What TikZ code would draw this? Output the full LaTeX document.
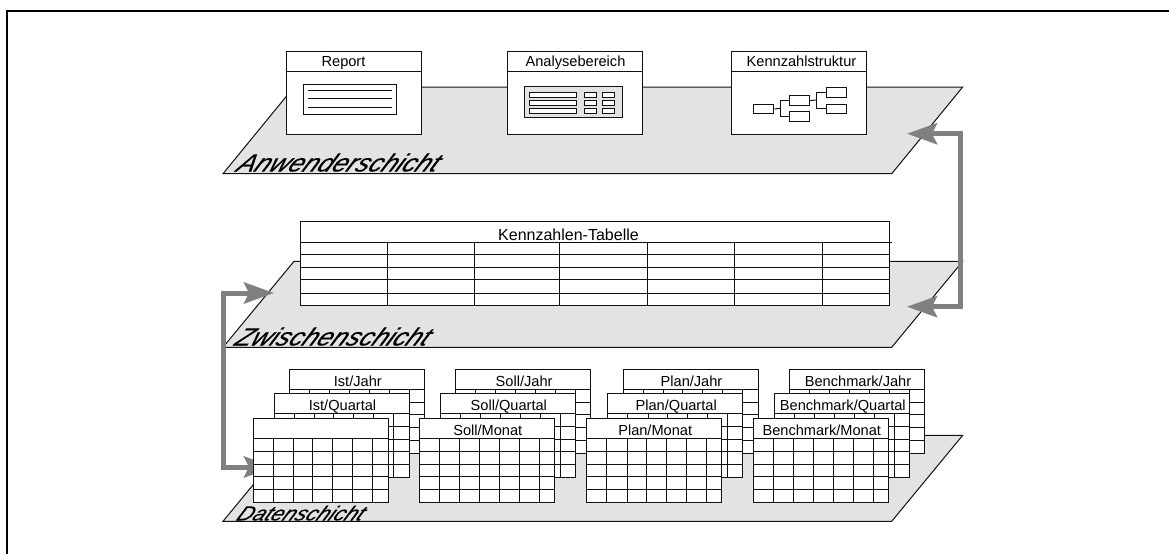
\documentclass[tikz,border=0pt]{standalone}
\usepackage{fontspec}
\setmainfont{Liberation Sans}
\newfontfamily\layerfont[FakeBold=0.4]{Liberation Sans Italic}
\usetikzlibrary{arrows.meta}
\definecolor{planegray}{HTML}{E3E3E3}
\definecolor{arrowgray}{HTML}{808080}
\definecolor{linec}{HTML}{111111}
\tikzset{
  thinline/.style={draw=linec,line width=1pt},
  plane/.style={fill=planegray,draw=none},
  planeedge/.style={draw=linec,line width=1pt},
  boxfill/.style={thinline,fill=white},
  flowarrow/.style={draw=arrowgray,line width=5pt,line join=miter,
    {Stealth[length=30pt,width=21pt,inset=5pt,color=arrowgray]}-{Stealth[length=30pt,width=21pt,inset=5pt,color=arrowgray]}},
  headtext/.style={font=\fontsize{14.6pt}{16pt}\selectfont,anchor=base,inner sep=0pt,text=black},
  layertext/.style={anchor=base west,inner sep=0pt,transform shape,text=black},
  leaf/.style={thinline,fill=white,minimum width=20pt,minimum height=9.5pt,inner sep=0pt,anchor=north west},
}
\newcommand{\tableat}[4]{% x, y, label, name
  \begin{scope}[shift={(#1,#2)}]
    \path[boxfill] (0,0) rectangle (135,84);
    \foreach \r in {20.4,33,45.7,58.3,71.2} \draw[thinline] (0,\r) -- (135,\r);
    \foreach \c in {20,40.3,59.7,79.7,99.7,119.7} \draw[thinline] (\c,20.4) -- (\c,84);
    \node[headtext] (#4) at (68.5,17) {#3};
  \end{scope}}
\newcommand{\planeat}[2]{% top y, bottom y
  \path[plane] (294,#1) -- (962.7,#1) -- (891.7,#2) -- (223,#2) -- cycle;
  \draw[planeedge] (223,#2) -- (294,#1) -- (962.7,#1) -- (891.7,#2) -- cycle;
}
\begin{document}
\begin{tikzpicture}[x=1pt,y=-1pt]
\useasboundingbox (0,0) rectangle (1169,554);
\draw[black,line width=2pt] (7,554) -- (7,11) -- (1169,11);

% planes
\planeat{87}{173.7}
\planeat{261.3}{347.3}
\planeat{435.3}{521.3}

% connectors
\coordinate (tipA) at (907,133.7);
\coordinate (turnA) at (960,133.7);
\coordinate (turnB) at (960,306.7);
\coordinate (tipB) at (907,306.7);
\coordinate (tipC) at (274,293);
\coordinate (turnC) at (223.3,293);
\coordinate (turnD) at (223.3,467);
\coordinate (tipD) at (274,467);
\draw[flowarrow] (tipA) -- (turnA) -- (turnB) -- (tipB);
\draw[flowarrow] (tipC) -- (turnC) -- (turnD) -- (tipD);

% layer labels
\node[layertext,shift={(235,171.5)},xslant=.55,xscale=1.05,font=\fontsize{25pt}{27pt}\selectfont\layerfont] (anw) {Anwenderschicht};
\node[layertext,shift={(233,345.5)},xslant=.55,xscale=1.05,font=\fontsize{25pt}{27pt}\selectfont\layerfont] (zwi) {Zwischenschicht};
\node[layertext,shift={(235,520.5)},xslant=.55,xscale=1.06,font=\fontsize{20.5pt}{22pt}\selectfont\layerfont] (dat) {Datenschicht};

% top boxes
\path[boxfill] (286.7,51) rectangle (421.7,134.3);
\draw[thinline] (286.7,71) -- (421.7,71);
\node[headtext] (rep) at (343.5,66) {Report};
\path[boxfill] (507.7,51) rectangle (642.7,134.3);
\draw[thinline] (507.7,71) -- (642.7,71);
\node[headtext] (ana) at (575.5,66) {Analysebereich};
\path[boxfill] (731.7,51) rectangle (866.7,134.3);
\draw[thinline] (731.7,71) -- (866.7,71);
\node[headtext] (ken) at (801.5,66) {Kennzahlstruktur};

% report icon
\path[boxfill] (303.3,84.7) rectangle (396.7,114);
\draw[thinline] (308,90) -- (392,90);
\draw[thinline] (308,98.5) -- (392,98.5);
\draw[thinline] (308,107) -- (392,107);

% analysis icon
\path[thinline,fill=planegray] (524.3,86.3) rectangle (622.7,117);
\foreach \y in {92,100.5,108}{
  \path[thinline,fill=white] (529.5,\y) rectangle (576.5,\y+5);
  \path[thinline,fill=white] (584.7,\y) rectangle (596.7,\y+5);
  \path[thinline,fill=white] (602.7,\y) rectangle (614.7,\y+5);
}

% structure icon
\node[leaf] (kA) at (753.3,103.7) {};
\node[leaf] (kB) at (789,95.3) {};
\node[leaf] (kC) at (789,111.4) {};
\node[leaf] (kD) at (825.5,87.3) {};
\node[leaf] (kE) at (825.5,103.7) {};
\coordinate (jA) at (780,108.4);
\coordinate (jB) at (816,100);
\draw[thinline] (kA.east) -- (jA);
\draw[thinline] (kB.west) -| (jA) |- (kC.west);
\draw[thinline] (kB.east) -- (jB);
\draw[thinline] (kD.west) -| (jB) |- (kE.west);

% middle table
\path[boxfill] (300,221.7) rectangle (889.3,305.3);
\draw[thinline] (300,242) -- (891.7,242);
\foreach \r in {254.5,267,279.5,293} \draw[thinline] (300,\r) -- (889.3,\r);
\foreach \c in {387.3,474.3,559.7,647.3,734.7,822.3} \draw[thinline] (\c,242) -- (\c,305.3);
\node[headtext,font=\fontsize{16pt}{18pt}\selectfont] (kt) at (568.5,240) {Kennzahlen-Tabelle};

% data tables
\tableat{289.3}{369}{Ist/Jahr}{t1}
\tableat{274}{393.5}{Ist/Quartal}{t2}
\tableat{253}{418.3}{}{t3}
\tableat{455.6}{369}{Soll/Jahr}{t4}
\tableat{440.3}{393.5}{Soll/Quartal}{t5}
\tableat{419.3}{418.3}{Soll/Monat}{t6}
\tableat{623}{369}{Plan/Jahr}{t7}
\tableat{607.7}{393.5}{Plan/Quartal}{t8}
\tableat{586.7}{418.3}{Plan/Monat}{t9}
\tableat{789.5}{369}{Benchmark/Jahr}{t10}
\tableat{774.3}{393.5}{Benchmark/Quartal}{t11}
\tableat{753.3}{418.3}{Benchmark/Monat}{t12}
\end{tikzpicture}
\end{document}
